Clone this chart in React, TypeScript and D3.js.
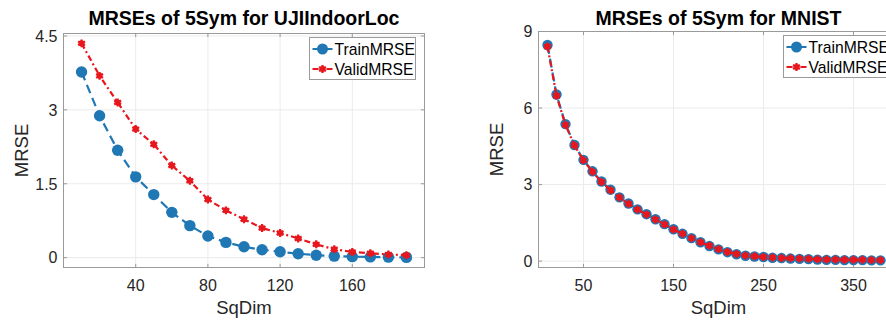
import React from "react";
import * as d3 from "d3";

// ---------- data ----------
const ujiX = [10, 20, 30, 40, 50, 60, 70, 80, 90, 100, 110, 120, 130, 140, 150, 160, 170, 180, 190];
const ujiTrain = [3.77, 2.88, 2.18, 1.64, 1.28, 0.92, 0.65, 0.44, 0.31, 0.22, 0.16, 0.12, 0.08, 0.05, 0.03, 0.02, 0.015, 0.01, 0.005];
const ujiValid = [4.35, 3.69, 3.15, 2.61, 2.3, 1.87, 1.56, 1.18, 0.96, 0.78, 0.6, 0.5, 0.39, 0.27, 0.17, 0.115, 0.09, 0.065, 0.05];

const mnistX = [10, 20, 30, 40, 50, 60, 70, 80, 90, 100, 110, 120, 130, 140, 150, 160, 170, 180, 190, 200,
  210, 220, 230, 240, 250, 260, 270, 280, 290, 300, 310, 320, 330, 340, 350, 360, 370, 380];
const mnistTrain = [8.47, 6.53, 5.37, 4.55, 3.97, 3.52, 3.12, 2.8, 2.5, 2.26, 2.03, 1.84, 1.64, 1.45, 1.25, 1.07, 0.9, 0.74, 0.59, 0.46,
  0.35, 0.27, 0.21, 0.18, 0.16, 0.13, 0.12, 0.1, 0.09, 0.08, 0.06, 0.05, 0.05, 0.04, 0.04, 0.04, 0.03, 0.03];
const mnistValid = [8.41, 6.48, 5.34, 4.53, 3.95, 3.5, 3.1, 2.78, 2.49, 2.25, 2.02, 1.83, 1.63, 1.44, 1.24, 1.07, 0.9, 0.74, 0.6, 0.47,
  0.36, 0.28, 0.22, 0.19, 0.16, 0.14, 0.12, 0.11, 0.1, 0.09, 0.07, 0.06, 0.06, 0.05, 0.05, 0.05, 0.04, 0.04];

const ujiXTicks = [40, 80, 120, 160];
const ujiYTicks = [0, 1.5, 3, 4.5];
const mnistXTicks = [50, 150, 250, 350];
const mnistYTicks = [0, 3, 6, 9];

const seriesNames = ["TrainMRSE", "ValidMRSE"];

// ---------- styles ----------
const BLUE = "#1f77b4";
const RED = "#e8171d";
const FONT = "'Liberation Sans', Arial, Helvetica, sans-serif";
const TXT = "#262626";
const BOX = "#9a9a9a";
const GRID = "#ebebeb";

type PanelProps = {
  title: string;
  x: number[];
  train: number[];
  valid: number[];
  xDomain: [number, number];
  yDomain: [number, number];
  xTicks: number[];
  yTicks: number[];
  left: number;
  right: number;
  top: number;
  bottom: number;
  trainR: number;
};

function Panel(p: PanelProps) {
  const xs = d3.scaleLinear().domain(p.xDomain).range([p.left, p.right]);
  const ys = d3.scaleLinear().domain(p.yDomain).range([p.bottom, p.top]);
  const trainPts = p.x.map((v, i) => [xs(v), ys(p.train[i])] as [number, number]);
  const validPts = p.x.map((v, i) => [xs(v), ys(p.valid[i])] as [number, number]);
  const line = d3.line();
  const ast = d3.symbol().type(d3.symbolAsterisk).size(44)();
  const cx = (p.left + p.right) / 2;
  const cy = (p.top + p.bottom) / 2;
  const tl = 3.6;
  const legL = p.right - 115;
  const legT = p.top + 4;

  const redMarker = (
    <>
      <circle r={3} fill={RED} />
      <path d={ast || ""} fill="none" stroke={RED} strokeWidth={2.2} />
    </>
  );

  return (
    <g>
      <rect x={p.left} y={p.top} width={p.right - p.left} height={p.bottom - p.top} fill="#fff" />
      {p.xTicks.map((t) => (
        <line key={"gx" + t} x1={xs(t)} x2={xs(t)} y1={p.top} y2={p.bottom} stroke={GRID} strokeWidth={1} />
      ))}
      {p.yTicks.map((t) => (
        <line key={"gy" + t} x1={p.left} x2={p.right} y1={ys(t)} y2={ys(t)} stroke={GRID} strokeWidth={1} />
      ))}
      <rect x={p.left} y={p.top} width={p.right - p.left} height={p.bottom - p.top} fill="none" stroke={BOX} strokeWidth={1} />
      {p.xTicks.map((t) => (
        <g key={"tx" + t}>
          <line x1={xs(t)} x2={xs(t)} y1={p.bottom} y2={p.bottom - tl} stroke={BOX} />
          <line x1={xs(t)} x2={xs(t)} y1={p.top} y2={p.top + tl} stroke={BOX} />
          <text x={xs(t)} y={p.bottom + 23.5} textAnchor="middle" fontFamily={FONT} fontSize={16} fill={TXT}>
            {String(t)}
          </text>
        </g>
      ))}
      {p.yTicks.map((t) => (
        <g key={"ty" + t}>
          <line x1={p.left} x2={p.left + tl} y1={ys(t)} y2={ys(t)} stroke={BOX} />
          <line x1={p.right} x2={p.right - tl} y1={ys(t)} y2={ys(t)} stroke={BOX} />
          <text x={p.left - 6} y={ys(t)} dy="0.36em" textAnchor="end" fontFamily={FONT} fontSize={16} fill={TXT}>
            {String(t)}
          </text>
        </g>
      ))}
      <path d={line(trainPts) || ""} fill="none" stroke={BLUE} strokeWidth={2.2} strokeDasharray="9,5" />
      {trainPts.map(([px, py], i) => (
        <circle key={"tp" + i} cx={px} cy={py} r={p.trainR} fill={BLUE} />
      ))}
      <path d={line(validPts) || ""} fill="none" stroke={RED} strokeWidth={2.2} strokeDasharray="6,3,2,3" />
      {validPts.map(([px, py], i) => (
        <g key={"vp" + i} transform={`translate(${px},${py})`}>
          {redMarker}
        </g>
      ))}
      <text x={cx} y={25} textAnchor="middle" fontFamily={FONT} fontWeight="bold" fontSize={19.5} fill="#000">
        {p.title}
      </text>
      <text x={cx} y={314} textAnchor="middle" fontFamily={FONT} fontSize={18.5} fill={TXT}>
        SqDim
      </text>
      <text
        transform={`translate(${p.left - 36},${cy}) rotate(-90)`}
        textAnchor="middle"
        fontFamily={FONT}
        fontSize={18.5}
        fill={TXT}
      >
        MRSE
      </text>
      <rect x={legL} y={legT} width={106} height={42} fill="#fff" stroke={BOX} strokeWidth={1} />
      <line x1={legL + 3} x2={legL + 23} y1={legT + 11.5} y2={legT + 11.5} stroke={BLUE} strokeWidth={2} />
      <circle cx={legL + 13} cy={legT + 11.5} r={5.5} fill={BLUE} />
      <text x={legL + 25} y={legT + 11.5} dy="0.36em" fontFamily={FONT} fontSize={15.7} fill="#000">
        {seriesNames[0]}
      </text>
      <line x1={legL + 3} x2={legL + 23} y1={legT + 31.5} y2={legT + 31.5} stroke={RED} strokeWidth={2} strokeDasharray="6,3,2,3" />
      <g transform={`translate(${legL + 13},${legT + 31.5})`}>{redMarker}</g>
      <text x={legL + 25} y={legT + 31.5} dy="0.36em" fontFamily={FONT} fontSize={15.7} fill="#000">
        {seriesNames[1]}
      </text>
    </g>
  );
}

export default function App() {
  return (
    <svg
      width={886}
      height={320}
      style={{ position: "absolute", left: 0, top: 0, background: "#fff" }}
      xmlns="http://www.w3.org/2000/svg"
    >
      <rect width={886} height={320} fill="#fff" />
      <Panel
        title="MRSEs of 5Sym for UJIIndoorLoc"
        x={ujiX}
        train={ujiTrain}
        valid={ujiValid}
        xDomain={[0, 200]}
        yDomain={[-0.2, 4.55]}
        xTicks={ujiXTicks}
        yTicks={ujiYTicks}
        left={63.5}
        right={424.5}
        top={33.5}
        bottom={267.5}
        trainR={5.7}
      />
      <Panel
        title="MRSEs of 5Sym for MNIST"
        x={mnistX}
        train={mnistTrain}
        valid={mnistValid}
        xDomain={[0, 400]}
        yDomain={[-0.25, 9]}
        xTicks={mnistXTicks}
        yTicks={mnistYTicks}
        left={538.5}
        right={898.5}
        top={31.5}
        bottom={267.5}
        trainR={5.2}
      />
    </svg>
  );
}
